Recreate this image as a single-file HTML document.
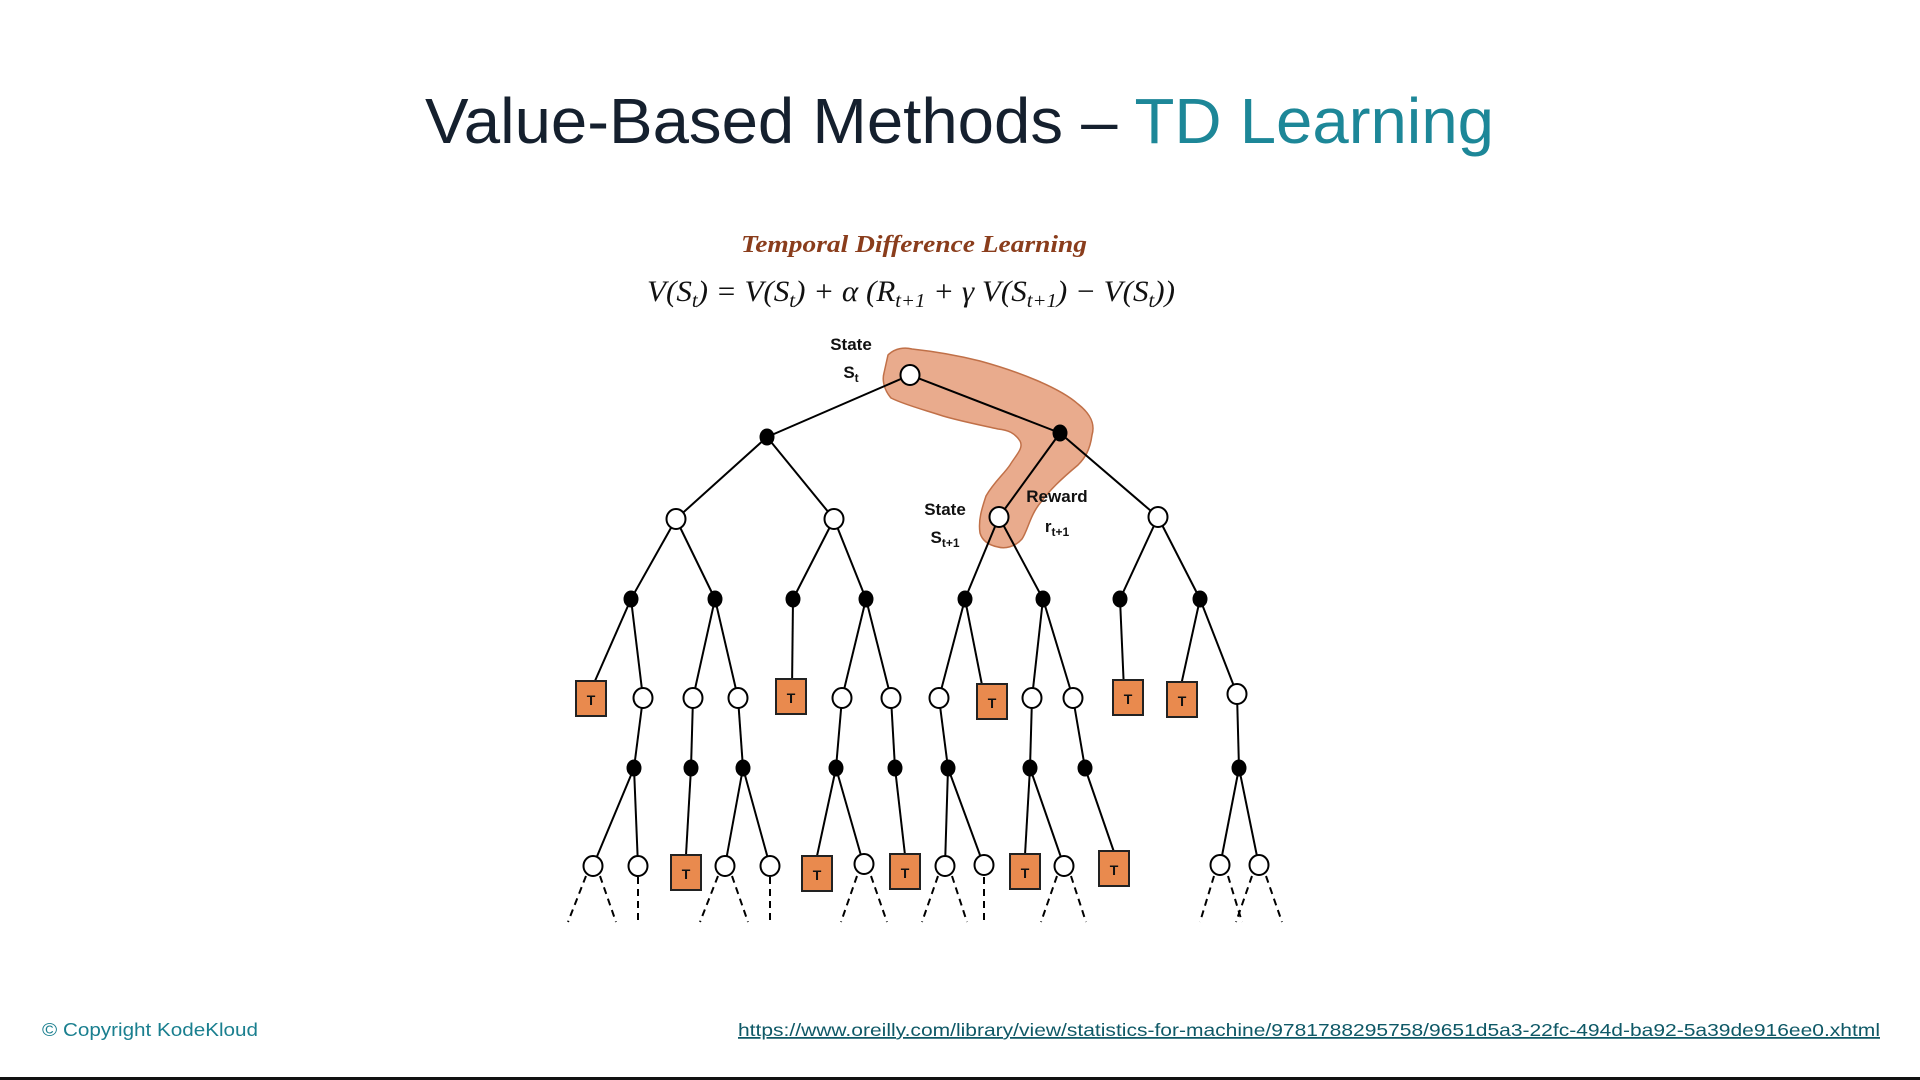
<!DOCTYPE html>
<html><head><meta charset="utf-8"><style>
html,body{margin:0;padding:0;background:#fff;width:1920px;height:1080px;overflow:hidden}
svg{display:block}
</style></head><body>
<svg width="1920" height="1080" viewBox="0 0 1920 1080" xmlns="http://www.w3.org/2000/svg">
<rect width="1920" height="1080" fill="#fff"/>
<text x="425" y="143" font-family="Liberation Sans, sans-serif" font-size="64" textLength="1069" lengthAdjust="spacingAndGlyphs" fill="#15202e">Value-Based Methods – <tspan fill="#1d8798">TD Learning</tspan></text>
<text x="741" y="252" font-family="Liberation Serif, serif" font-style="italic" font-weight="bold" font-size="24" fill="#8a3d1c" textLength="346" lengthAdjust="spacingAndGlyphs">Temporal Difference Learning</text>
<text x="647" y="301" font-family="Liberation Serif, serif" font-style="italic" font-size="30" textLength="528" lengthAdjust="spacingAndGlyphs" fill="#111">V(S<tspan font-size="20" dy="6">t</tspan><tspan dy="-6">) = V(S</tspan><tspan font-size="20" dy="6">t</tspan><tspan dy="-6">) + α (R</tspan><tspan font-size="20" dy="6">t+1</tspan><tspan dy="-6"> + γ V(S</tspan><tspan font-size="20" dy="6">t+1</tspan><tspan dy="-6">) − V(S</tspan><tspan font-size="20" dy="6">t</tspan><tspan dy="-6">))</tspan></text>

<path d="M888,355 C895,348 905,347 912,349 C940,352 960,356 980,361 C1020,372 1060,388 1078,404 C1092,415 1095,425 1092,435 C1090,450 1085,458 1078,465 C1060,480 1050,490 1041,502 C1030,515 1028,530 1022,539 C1015,547 1005,549 998,547 C988,545 982,540 980,533 C978,520 982,508 986,496 C994,482 1004,474 1010,465 C1016,455 1024,448 1020,441 C1015,433 1008,430 998,429 C980,425 960,421 943,416 C925,410 905,405 891,398 C884,390 882,380 884,373 Z" fill="#e9ab8d" stroke="#c07048" stroke-width="1.5"/>

<g font-family="Liberation Sans, sans-serif" font-weight="bold" font-size="17" fill="#111" text-anchor="middle">
<text x="851" y="350">State</text>
<text x="851" y="378">S<tspan font-size="12" dy="4">t</tspan></text>
<text x="945" y="515">State</text>
<text x="945" y="543">S<tspan font-size="12" dy="4">t+1</tspan></text>
<text x="1057" y="502">Reward</text>
<text x="1057" y="532">r<tspan font-size="12" dy="4">t+1</tspan></text>
</g>

<g stroke="#000" stroke-width="2" fill="none">
<line x1="910" y1="375" x2="767" y2="437"/><line x1="910" y1="375" x2="1060" y2="433"/>
<line x1="767" y1="437" x2="676" y2="519"/><line x1="767" y1="437" x2="834" y2="519"/>
<line x1="1060" y1="433" x2="999" y2="517"/><line x1="1060" y1="433" x2="1158" y2="517"/>
<line x1="676" y1="519" x2="631" y2="599"/><line x1="676" y1="519" x2="715" y2="599"/>
<line x1="834" y1="519" x2="793" y2="599"/><line x1="834" y1="519" x2="866" y2="599"/>
<line x1="999" y1="517" x2="965" y2="599"/><line x1="999" y1="517" x2="1043" y2="599"/>
<line x1="1158" y1="517" x2="1120" y2="599"/><line x1="1158" y1="517" x2="1200" y2="599"/>
<line x1="631" y1="599" x2="591" y2="690"/><line x1="631" y1="599" x2="643" y2="698"/>
<line x1="715" y1="599" x2="693" y2="698"/><line x1="715" y1="599" x2="738" y2="698"/>
<line x1="793" y1="599" x2="792" y2="690"/>
<line x1="866" y1="599" x2="842" y2="698"/><line x1="866" y1="599" x2="891" y2="698"/>
<line x1="965" y1="599" x2="939" y2="698"/><line x1="965" y1="599" x2="983" y2="690"/>
<line x1="1043" y1="599" x2="1032" y2="698"/><line x1="1043" y1="599" x2="1073" y2="698"/>
<line x1="1120" y1="599" x2="1124" y2="690"/>
<line x1="1200" y1="599" x2="1180" y2="690"/><line x1="1200" y1="599" x2="1237" y2="694"/>
<line x1="643" y1="698" x2="634" y2="768"/><line x1="693" y1="698" x2="691" y2="768"/>
<line x1="738" y1="698" x2="743" y2="768"/><line x1="842" y1="698" x2="836" y2="768"/>
<line x1="891" y1="698" x2="895" y2="768"/><line x1="939" y1="698" x2="948" y2="768"/>
<line x1="1032" y1="698" x2="1030" y2="768"/><line x1="1073" y1="698" x2="1085" y2="768"/>
<line x1="1237" y1="694" x2="1239" y2="768"/>
<line x1="634" y1="768" x2="593" y2="866"/><line x1="634" y1="768" x2="638" y2="866"/>
<line x1="691" y1="768" x2="686" y2="855"/>
<line x1="743" y1="768" x2="725" y2="866"/><line x1="743" y1="768" x2="770" y2="866"/>
<line x1="836" y1="768" x2="817" y2="856"/><line x1="836" y1="768" x2="864" y2="866"/>
<line x1="895" y1="768" x2="905" y2="855"/>
<line x1="948" y1="768" x2="945" y2="866"/><line x1="948" y1="768" x2="984" y2="866"/>
<line x1="1030" y1="768" x2="1025" y2="855"/><line x1="1030" y1="768" x2="1064" y2="866"/>
<line x1="1085" y1="768" x2="1114" y2="852"/>
<line x1="1239" y1="768" x2="1220" y2="866"/><line x1="1239" y1="768" x2="1259" y2="866"/>
</g>
<g stroke="#000" stroke-width="2" stroke-dasharray="7,5" fill="none">
<line x1="586" y1="876" x2="568" y2="922"/><line x1="600" y1="876" x2="616" y2="922"/>
<line x1="638" y1="877" x2="638" y2="924"/>
<line x1="718" y1="876" x2="700" y2="922"/><line x1="732" y1="876" x2="748" y2="922"/>
<line x1="770" y1="877" x2="770" y2="924"/>
<line x1="857" y1="876" x2="841" y2="922"/><line x1="871" y1="876" x2="887" y2="922"/>
<line x1="938" y1="876" x2="922" y2="922"/><line x1="952" y1="876" x2="967" y2="922"/>
<line x1="984" y1="877" x2="984" y2="924"/>
<line x1="1057" y1="876" x2="1041" y2="922"/><line x1="1071" y1="876" x2="1086" y2="922"/>
<line x1="1214" y1="876" x2="1200" y2="922"/><line x1="1228" y1="876" x2="1242" y2="922"/>
<line x1="1252" y1="876" x2="1236" y2="922"/><line x1="1266" y1="876" x2="1282" y2="922"/>
</g>
<g fill="#fff" stroke="#000" stroke-width="2">
<ellipse cx="910" cy="375" rx="9.5" ry="10"/>
<ellipse cx="676" cy="519" rx="9.5" ry="10"/><ellipse cx="834" cy="519" rx="9.5" ry="10"/>
<ellipse cx="999" cy="517" rx="9.5" ry="10"/><ellipse cx="1158" cy="517" rx="9.5" ry="10"/>
<ellipse cx="643" cy="698" rx="9.5" ry="10"/><ellipse cx="693" cy="698" rx="9.5" ry="10"/>
<ellipse cx="738" cy="698" rx="9.5" ry="10"/><ellipse cx="842" cy="698" rx="9.5" ry="10"/>
<ellipse cx="891" cy="698" rx="9.5" ry="10"/><ellipse cx="939" cy="698" rx="9.5" ry="10"/>
<ellipse cx="1032" cy="698" rx="9.5" ry="10"/><ellipse cx="1073" cy="698" rx="9.5" ry="10"/>
<ellipse cx="1237" cy="694" rx="9.5" ry="10"/>
<ellipse cx="593" cy="866" rx="9.5" ry="10"/><ellipse cx="638" cy="866" rx="9.5" ry="10"/>
<ellipse cx="725" cy="866" rx="9.5" ry="10"/><ellipse cx="770" cy="866" rx="9.5" ry="10"/>
<ellipse cx="864" cy="864" rx="9.5" ry="10"/><ellipse cx="945" cy="866" rx="9.5" ry="10"/>
<ellipse cx="984" cy="865" rx="9.5" ry="10"/><ellipse cx="1064" cy="866" rx="9.5" ry="10"/>
<ellipse cx="1220" cy="865" rx="9.5" ry="10"/><ellipse cx="1259" cy="865" rx="9.5" ry="10"/>
</g>
<g fill="#000">
<ellipse cx="767" cy="437" rx="7.5" ry="8.5"/><ellipse cx="1060" cy="433" rx="7.5" ry="8.5"/>
<ellipse cx="631" cy="599" rx="7.5" ry="8.5"/><ellipse cx="715" cy="599" rx="7.5" ry="8.5"/>
<ellipse cx="793" cy="599" rx="7.5" ry="8.5"/><ellipse cx="866" cy="599" rx="7.5" ry="8.5"/>
<ellipse cx="965" cy="599" rx="7.5" ry="8.5"/><ellipse cx="1043" cy="599" rx="7.5" ry="8.5"/>
<ellipse cx="1120" cy="599" rx="7.5" ry="8.5"/><ellipse cx="1200" cy="599" rx="7.5" ry="8.5"/>
<ellipse cx="634" cy="768" rx="7.5" ry="8.5"/><ellipse cx="691" cy="768" rx="7.5" ry="8.5"/>
<ellipse cx="743" cy="768" rx="7.5" ry="8.5"/><ellipse cx="836" cy="768" rx="7.5" ry="8.5"/>
<ellipse cx="895" cy="768" rx="7.5" ry="8.5"/><ellipse cx="948" cy="768" rx="7.5" ry="8.5"/>
<ellipse cx="1030" cy="768" rx="7.5" ry="8.5"/><ellipse cx="1085" cy="768" rx="7.5" ry="8.5"/>
<ellipse cx="1239" cy="768" rx="7.5" ry="8.5"/>
</g>
<g font-family="Liberation Sans, sans-serif" font-weight="bold" font-size="14" text-anchor="middle">
<g fill="#e98a4e" stroke="#222" stroke-width="2">
<rect x="576" y="681" width="30" height="35"/><rect x="776" y="679" width="30" height="35"/>
<rect x="977" y="684" width="30" height="35"/><rect x="1113" y="680" width="30" height="35"/>
<rect x="1167" y="682" width="30" height="35"/>
<rect x="671" y="855" width="30" height="35"/><rect x="802" y="856" width="30" height="35"/>
<rect x="890" y="854" width="30" height="35"/><rect x="1010" y="854" width="30" height="35"/>
<rect x="1099" y="851" width="30" height="35"/>
</g>
<g fill="#111">
<text x="591" y="705">T</text><text x="791" y="703">T</text><text x="992" y="708">T</text>
<text x="1128" y="704">T</text><text x="1182" y="706">T</text>
<text x="686" y="879">T</text><text x="817" y="880">T</text><text x="905" y="878">T</text>
<text x="1025" y="878">T</text><text x="1114" y="875">T</text>
</g>
</g>

<text x="42" y="1036" font-family="Liberation Sans, sans-serif" font-size="18" fill="#1a7f8f" textLength="216" lengthAdjust="spacingAndGlyphs">© Copyright KodeKloud</text>
<text x="1880" y="1036" text-anchor="end" font-family="Liberation Sans, sans-serif" font-size="17.5" fill="#0e5866" text-decoration="underline" textLength="1142" lengthAdjust="spacingAndGlyphs">https://www.oreilly.com/library/view/statistics-for-machine/9781788295758/9651d5a3-22fc-494d-ba92-5a39de916ee0.xhtml</text>
<rect x="0" y="1077" width="1920" height="3" fill="#111"/>
</svg>
</body></html>
